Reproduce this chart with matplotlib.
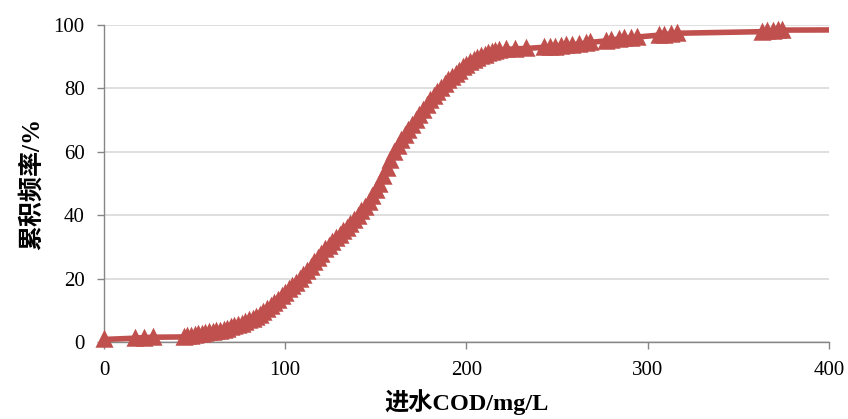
import numpy as np
import matplotlib.pyplot as plt

# cumulative frequency of influent COD
cod = [0, 17, 22, 27, 44, 46, 48, 50, 52, 54, 56, 58, 60, 62, 64, 66, 68, 70,
       72, 74, 76, 78, 80, 82, 84, 86, 88, 90, 92, 94, 96, 98, 100, 102, 104,
       106, 108, 110, 112, 114, 116, 118, 120, 122, 124, 126, 128, 130, 132,
       134, 136, 138, 140, 142, 144, 146, 148, 150, 152, 154, 156, 158, 160,
       162, 164, 166, 168, 170, 172, 174, 176, 178, 180, 182, 184, 186, 188,
       190, 192, 194, 196, 198, 200, 202, 204, 206, 208, 210, 212, 214, 216,
       218, 222, 227, 233, 243, 246, 249, 252, 255, 258, 262, 266, 268, 277,
       280, 284, 287, 291, 294, 306, 309, 313, 316, 363, 366, 369, 372, 374]
freq = [0.8, 1.2, 1.4, 1.5, 1.6, 1.8, 2.0, 2.2, 2.4, 2.6, 2.8, 3.0, 3.2, 3.4,
        3.6, 3.9, 4.2, 4.6, 5.0, 5.4, 5.8, 6.3, 6.8, 7.3, 7.9, 8.6, 9.4, 10.3,
        11.3, 12.3, 13.4, 14.5, 15.6, 16.6, 17.6, 18.6, 19.8, 21.0, 22.4, 23.8,
        25.2, 26.6, 27.9, 29.2, 30.4, 31.6, 32.7, 33.8, 34.9, 36.0, 37.2, 38.5,
        39.8, 41.2, 42.7, 44.3, 46.1, 48.0, 50.0, 52.3, 54.8, 57.4, 59.8, 61.8,
        63.6, 65.3, 66.9, 68.4, 70.0, 71.6, 73.2, 74.8, 76.3, 77.7, 79.0, 80.2,
        81.4, 82.5, 83.6, 84.6, 85.6, 86.6, 87.5, 88.3, 89.0, 89.6, 90.1, 90.6,
        91.1, 91.5, 91.8, 92.0, 92.3, 92.5, 92.6, 93.0, 93.1, 93.2, 93.4, 93.6,
        93.8, 94.0, 94.3, 94.5, 95.0, 95.3, 95.6, 95.8, 96.0, 96.2, 96.8, 97.0,
        97.2, 97.4, 97.9, 98.0, 98.1, 98.3, 98.4]
# line runs on past the right edge of the axis
tail_x = [374, 430]
tail_y = [98.4, 98.5]

color = "#C0504D"
cjk = ["Liberation Serif", "Noto Sans CJK SC"]

fig = plt.figure(figsize=(8.48, 4.19), dpi=100)
ax = fig.add_axes([0.1226, 0.1838, 0.8550, 0.7565])

ax.plot(cod, freq, color=color, linewidth=4, solid_capstyle="round", zorder=3)
ax.plot(tail_x, tail_y, color=color, linewidth=4, zorder=3)
ax.plot(cod, freq, ls="none", marker="^", markersize=10.5, color=color,
        markeredgewidth=1.8, clip_on=False, zorder=4)

ax.set_xlim(0, 400)
ax.set_ylim(0, 100)
ax.set_xticks([0, 100, 200, 300, 400])
ax.set_yticks([0, 20, 40, 60, 80, 100])

ax.grid(axis="y", color="#d9d9d9", linewidth=1.2)
ax.set_axisbelow(True)
for side in ["top", "right"]:
    ax.spines[side].set_visible(False)
for side in ["left", "bottom"]:
    ax.spines[side].set_color("#868686")
    ax.spines[side].set_linewidth(1.0)

ax.tick_params(axis="both", direction="out", length=5, width=1, color="#868686",
               labelsize=15, pad=9)
for lab in ax.get_xticklabels() + ax.get_yticklabels():
    lab.set_family("Liberation Serif")

ax.set_xlabel("进水COD/mg/L", family=cjk, fontweight="bold", fontsize=17.5,
              labelpad=6)
ax.set_ylabel("累积频率/%", family=cjk, fontweight="bold", fontsize=18,
              labelpad=7)

fig.savefig("out.png", dpi=100)
